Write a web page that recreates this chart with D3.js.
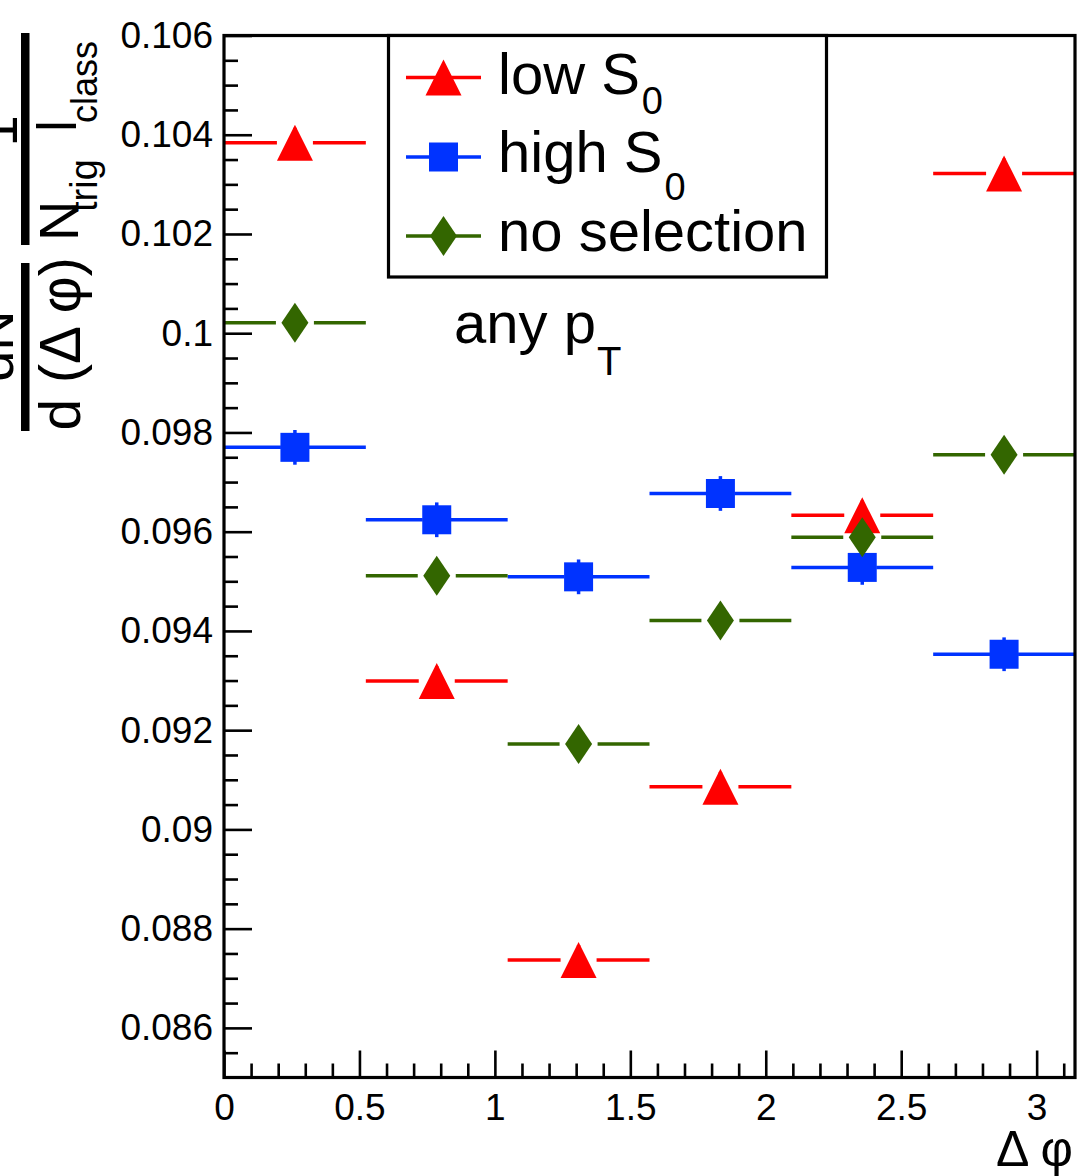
<!DOCTYPE html>
<html>
<head>
<meta charset="utf-8">
<script src="https://cdn.jsdelivr.net/npm/d3@7"></script>
<style>
  html, body { margin: 0; padding: 0; background: #fff; }
  svg { display: block; }
  text { font-family: "Liberation Sans", Arial, Helvetica, sans-serif; fill: #000; }
</style>
</head>
<body>
<svg id="chart" width="1082" height="1176"></svg>
<script>
// ---------------- data ----------------
const binEdges = [0, 0.5236, 1.0472, 1.5708, 2.0944, 2.6180, 3.1416];
const binCenters = [0.2618, 0.7854, 1.3090, 1.8326, 2.3562, 2.8798];

const lowS0  = [0.10384, 0.09299, 0.08737, 0.09086, 0.09633, 0.10322];
const highS0 = [0.09770, 0.09624, 0.09509, 0.09677, 0.09528, 0.09353];
const noSel  = [0.10021, 0.09511, 0.09172, 0.09421, 0.09589, 0.09755];

const lowS0Err  = [0.00030, 0.00030, 0.00030, 0.00030, 0.00030, 0.00030];
const highS0Err = [0.00035, 0.00035, 0.00035, 0.00035, 0.00035, 0.00034];
const noSelErr  = [0.00028, 0.00028, 0.00028, 0.00028, 0.00028, 0.00028];

const seriesNames = ["low S", "high S", "no selection"];
const seriesSubs  = ["0", "0", ""];

const xTickValues = [0, 0.5, 1, 1.5, 2, 2.5, 3];
const xTickLabels = ["0", "0.5", "1", "1.5", "2", "2.5", "3"];
const yTickValues = [0.086, 0.088, 0.090, 0.092, 0.094, 0.096, 0.098, 0.100, 0.102, 0.104, 0.106];
const yTickLabels = ["0.086", "0.088", "0.09", "0.092", "0.094", "0.096", "0.098", "0.1", "0.102", "0.104", "0.106"];

// ---------------- layout ----------------
const svg = d3.select("#chart");
const L = 224, R = 1075, T = 35.5, B = 1077.5;
const x = d3.scaleLinear().domain([0, Math.PI]).range([L, R]);
const y = d3.scaleLinear().domain([0.085, 0.106]).range([B, T]);

// marker shapes (bbox-centred, like ROOT)
const triangleShape = { draw(ctx, s) { const w = 18, h = 18; ctx.moveTo(0, -h); ctx.lineTo(w, h); ctx.lineTo(-w, h); ctx.closePath(); } };
const squareShape   = { draw(ctx, s) { const w = 14.5; ctx.rect(-w, -w, 2 * w, 2 * w); } };
const diamondShape  = { draw(ctx, s) { const w = 13.5, h = 20; ctx.moveTo(0, -h); ctx.lineTo(w, 0); ctx.lineTo(0, h); ctx.lineTo(-w, 0); ctx.closePath(); } };

const series = [
  { values: lowS0,  errs: lowS0Err,  color: "#ff0000", shape: triangleShape, half: 18,  gap: 18 },
  { values: highS0, errs: highS0Err, color: "#0033ff", shape: squareShape,   half: 14.5, gap: 14 },
  { values: noSel,  errs: noSelErr,  color: "#336600", shape: diamondShape,  half: 20,  gap: 19 }
];

// ---------------- axes ----------------
const yMinor = d3.range(0.0855, 0.1060, 0.0005).filter(v => Math.abs(Math.round(v * 500) - v * 500) > 1e-6);
const xMinor = d3.range(0.1, 3.15, 0.1).filter(v => Math.abs(Math.round(v * 2) - v * 2) > 1e-6);

const yAxis = d3.axisLeft(y).tickValues(yTickValues)
  .tickFormat((d, i) => yTickLabels[i]).tickSizeInner(-28).tickSizeOuter(0).tickPadding(11);
const yAxisMinor = d3.axisLeft(y).tickValues(yMinor).tickFormat("").tickSizeInner(-14).tickSizeOuter(0);
const xAxis = d3.axisBottom(x).tickValues(xTickValues)
  .tickFormat((d, i) => xTickLabels[i]).tickSizeInner(-27).tickSizeOuter(0).tickPadding(16);
const xAxisMinor = d3.axisBottom(x).tickValues(xMinor).tickFormat("").tickSizeInner(-14).tickSizeOuter(0);

function styleAxis(g) {
  g.select(".domain").remove();
  g.selectAll(".tick line").attr("stroke", "#000").attr("stroke-width", 2.6);
  g.selectAll(".tick text").attr("font-size", 37).attr("fill", "#000")
    .attr("font-family", "'Liberation Sans', Arial, sans-serif");
}
svg.append("g").attr("transform", `translate(${L},0)`).call(yAxis).call(styleAxis);
svg.append("g").attr("transform", `translate(${L},0)`).call(yAxisMinor).call(styleAxis);
svg.append("g").attr("transform", `translate(0,${B})`).call(xAxis).call(styleAxis);
svg.append("g").attr("transform", `translate(0,${B})`).call(xAxisMinor).call(styleAxis);

// ---------------- data marks ----------------
series.forEach(s => {
  const g = svg.append("g");
  s.values.forEach((v, i) => {
    const cx = x(binCenters[i]), cy = y(v);
    const x0 = x(binEdges[i]), x1 = x(binEdges[i + 1]);
    g.append("line").attr("x1", x0).attr("x2", cx - s.gap).attr("y1", cy).attr("y2", cy)
      .attr("stroke", s.color).attr("stroke-width", 3.5);
    g.append("line").attr("x1", cx + s.gap).attr("x2", x1).attr("y1", cy).attr("y2", cy)
      .attr("stroke", s.color).attr("stroke-width", 3.5);
    const ePix = y(v - s.errs[i]) - cy;
    if (ePix > s.half * 0.8) {
      g.append("line").attr("x1", cx).attr("x2", cx).attr("y1", y(v + s.errs[i])).attr("y2", y(v - s.errs[i]))
        .attr("stroke", s.color).attr("stroke-width", 3.5);
    }
    g.append("path").attr("d", d3.symbol().type(s.shape)())
      .attr("transform", `translate(${cx},${cy})`).attr("fill", s.color);
  });
});

// ---------------- frame ----------------
svg.append("rect").attr("x", L).attr("y", T).attr("width", R - L).attr("height", B - T)
  .attr("fill", "none").attr("stroke", "#000").attr("stroke-width", 3.2);

// ---------------- legend ----------------
const leg = svg.append("g");
leg.append("rect").attr("x", 388.5).attr("y", T).attr("width", 438).attr("height", 241.5)
  .attr("fill", "#fff").attr("stroke", "#000").attr("stroke-width", 3.2);
const legRows = [77.5, 157, 236];
const legBase = [93.5, 172, 251];
const legSubDy = [20, 28, 0];
series.forEach((s, i) => {
  const cy = legRows[i];
  leg.append("line").attr("x1", 406).attr("x2", 481).attr("y1", cy).attr("y2", cy)
    .attr("stroke", s.color).attr("stroke-width", 3.5);
  leg.append("path").attr("d", d3.symbol().type(s.shape)())
    .attr("transform", `translate(443.5,${cy})`).attr("fill", s.color);
  const t = leg.append("text").attr("x", 498).attr("y", legBase[i]).attr("font-size", 58);
  t.append("tspan").text(seriesNames[i]);
  if (seriesSubs[i]) t.append("tspan").attr("dx", 2).attr("dy", legSubDy[i]).attr("font-size", 38).text(seriesSubs[i]);
});

// ---------------- annotation ----------------
const ann = svg.append("text").attr("x", 454).attr("y", 343).attr("font-size", 58);
ann.append("tspan").text("any p");
ann.append("tspan").attr("dx", 1).attr("dy", 32).attr("font-size", 40).text("T");

// ---------------- axis titles ----------------
svg.append("text").attr("x", 1073).attr("y", 1166).attr("text-anchor", "end")
  .attr("font-family", "'Liberation Serif', 'Times New Roman', serif").attr("font-size", 50)
  .text("Δ φ");

const yt = svg.append("g");
function rot(txt, bx, by, size, anchor) {
  yt.append("text").attr("transform", `translate(${bx},${by}) rotate(-90)`)
    .attr("text-anchor", anchor).attr("font-size", size).text(txt);
}
// dN / d(Δφ)
rot("dN", 13, 346, 56, "middle");
yt.append("rect").attr("x", 21).attr("y", 263).attr("width", 8.5).attr("height", 168).attr("fill", "#000");
rot("d (Δ φ)", 80, 344, 57, "middle");
// 1 / (N_trig |_class)
rot("1", 17, 131, 56, "middle");
yt.append("rect").attr("x", 21).attr("y", 33).attr("width", 8.5).attr("height", 212).attr("fill", "#000");
rot("N", 78, 241, 56, "start");
rot("trig", 97, 212, 38, "start");
yt.append("line").attr("x1", 36).attr("x2", 76).attr("y1", 126).attr("y2", 126)
  .attr("stroke", "#000").attr("stroke-width", 4.5);
rot("class", 97, 123, 36, "start");
</script>
</body>
</html>
